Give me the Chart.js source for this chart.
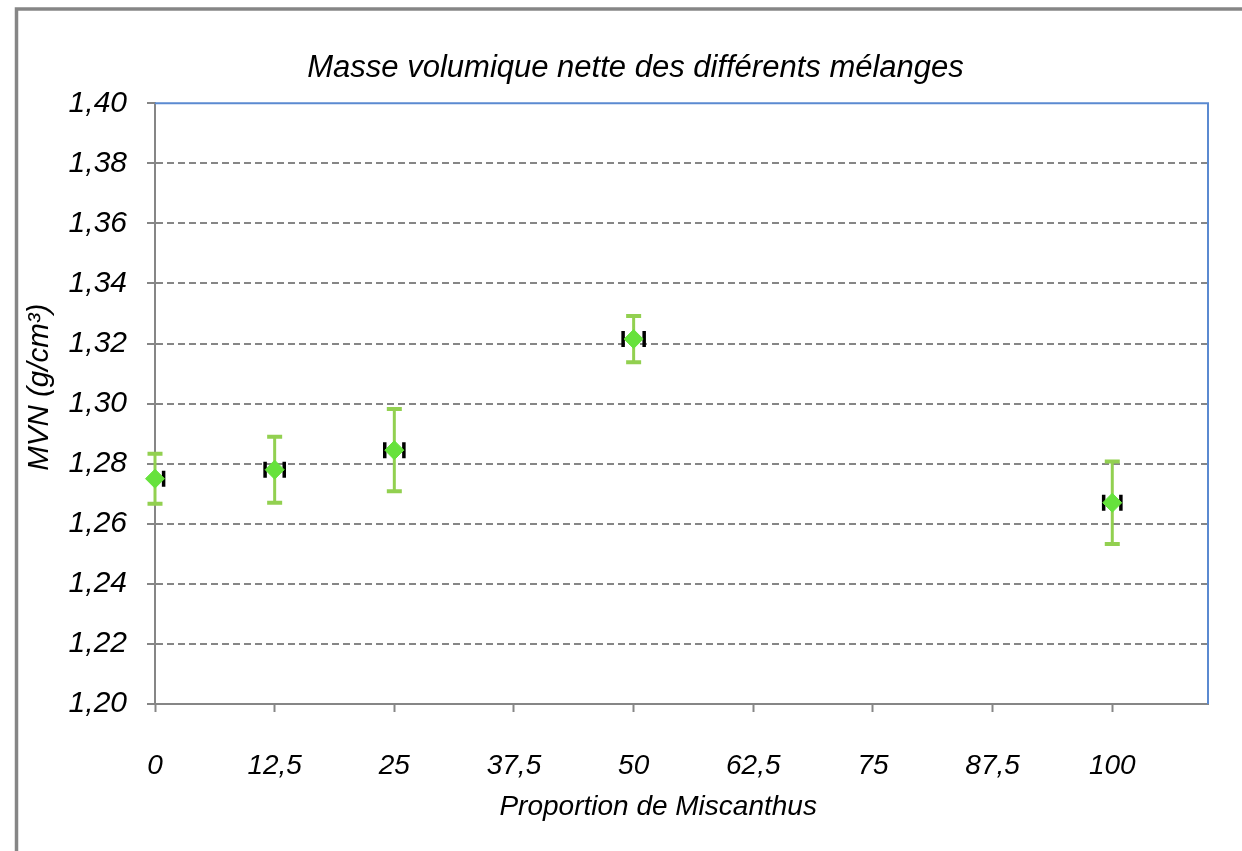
<!DOCTYPE html>
<html lang="fr">
<head>
<meta charset="UTF-8">
<title>Masse volumique nette des différents mélanges</title>
<script src="https://cdn.jsdelivr.net/npm/chart.js"></script>
<style>
  html, body { margin: 0; padding: 0; background: #fff; }
  #wrap { width: 1242px; height: 851px; }
</style>
</head>
<body>
<div id="wrap"><canvas id="chart" width="1242" height="851"></canvas></div>
<script>
// données
const proportions = [0, 12.5, 25, 50, 100];
const mvn = [1.275, 1.278, 1.2845, 1.3215, 1.267];
const mvnErr = [0.0083, 0.011, 0.0137, 0.0077, 0.0137];
const propErr = [0.9, 1.0, 1.0, 1.1, 0.9];
const xTicks = [0, 12.5, 25, 37.5, 50, 62.5, 75, 87.5, 100];

const police = '"Liberation Sans", Arial, sans-serif';

// cadre gris du graphique + bordure bleue de la zone de tracé
const cadre = {
    id: 'cadre',
    beforeDraw(chart) {
        const ctx = chart.ctx;
        ctx.save();
        ctx.strokeStyle = '#868686';
        ctx.lineWidth = 3.5;
        ctx.strokeRect(16.5, 9, 1300, 900);
        ctx.restore();
    },
    beforeDatasetsDraw(chart) {
        const a = chart.chartArea;
        const ctx = chart.ctx;
        ctx.save();
        ctx.strokeStyle = '#5b8ad1';
        ctx.lineWidth = 2;
        ctx.beginPath();
        ctx.moveTo(a.left, a.top);
        ctx.lineTo(a.right, a.top);
        ctx.lineTo(a.right, a.bottom);
        ctx.stroke();
        ctx.restore();
    }
};

// barres d'erreur (x en noir, y en vert)
const barresErreur = {
    id: 'barresErreur',
    beforeDatasetsDraw(chart) {
        const ctx = chart.ctx;
        const xs = chart.scales.x, ys = chart.scales.y;
        const a = chart.chartArea;
        proportions.forEach((p, i) => {
            const cx = xs.getPixelForValue(p);
            const cy = ys.getPixelForValue(mvn[i]);
            const yHaut = ys.getPixelForValue(mvn[i] + mvnErr[i]);
            const yBas = ys.getPixelForValue(mvn[i] - mvnErr[i]);
            ctx.save();
            ctx.strokeStyle = '#92d050';
            ctx.lineWidth = 3;
            ctx.beginPath();
            ctx.moveTo(cx, yHaut);
            ctx.lineTo(cx, yBas);
            ctx.stroke();
            ctx.lineWidth = 4;
            ctx.beginPath();
            ctx.moveTo(cx - 7.5, yHaut);
            ctx.lineTo(cx + 7.5, yHaut);
            ctx.moveTo(cx - 7.5, yBas);
            ctx.lineTo(cx + 7.5, yBas);
            ctx.stroke();
            ctx.restore();

            // les barres horizontales restent dans la zone de tracé
            ctx.save();
            ctx.beginPath();
            ctx.rect(a.left + 1, a.top, a.right - a.left, a.bottom - a.top);
            ctx.clip();
            const xg = xs.getPixelForValue(p - propErr[i]);
            const xd = xs.getPixelForValue(p + propErr[i]);
            ctx.strokeStyle = '#000';
            ctx.lineWidth = 2;
            ctx.beginPath();
            ctx.moveTo(xg, cy);
            ctx.lineTo(xd, cy);
            ctx.stroke();
            ctx.lineWidth = 3.5;
            ctx.beginPath();
            ctx.moveTo(xg, cy - 8);
            ctx.lineTo(xg, cy + 8);
            ctx.moveTo(xd, cy - 8);
            ctx.lineTo(xd, cy + 8);
            ctx.stroke();
            ctx.restore();
        });
    }
};

const virgule = v => String(v).replace('.', ',');

new Chart(document.getElementById('chart'), {
    type: 'scatter',
    data: {
        datasets: [{
            label: 'MVN',
            data: proportions.map((p, i) => ({ x: p, y: mvn[i] })),
            pointStyle: 'rectRot',
            pointRadius: 9.5,
            pointHoverRadius: 9.5,
            backgroundColor: '#66e23c',
            borderColor: '#66e23c',
            borderWidth: 1,
            clip: false
        }]
    },
    options: {
        responsive: false,
        animation: false,
        layout: { padding: { left: 20, right: 34, top: 12, bottom: 0 } },
        plugins: {
            legend: { display: false },
            tooltip: { enabled: false },
            title: {
                display: true,
                // espaces en tête : le titre Excel est décalé vers la droite
                text: '     Masse volumique nette des différents mélanges',
                color: '#000',
                font: { family: police, size: 31, style: 'italic', weight: 'normal', lineHeight: 1.2 },
                padding: { top: 38, bottom: 16 }
            }
        },
        scales: {
            x: {
                type: 'linear',
                min: 0,
                max: 110,
                afterBuildTicks: axis => { axis.ticks = xTicks.map(v => ({ value: v })); },
                afterFit: axis => { axis.height = 147; },
                grid: { drawOnChartArea: false, drawTicks: true, tickLength: 8, tickColor: '#868686', tickWidth: 2 },
                border: { color: '#868686', width: 2 },
                ticks: {
                    padding: 37,
                    maxRotation: 0,
                    autoSkip: false,
                    color: '#000',
                    font: { family: police, size: 28, style: 'italic' },
                    callback: v => virgule(v)
                },
                title: {
                    display: true,
                    text: 'Proportion de Miscanthus      ',
                    color: '#000',
                    font: { family: police, size: 28, style: 'italic', lineHeight: 1.2 },
                    padding: { top: 0, bottom: 27 }
                }
            },
            y: {
                min: 1.2,
                max: 1.4,
                afterFit: axis => { axis.width = 135; },
                grid: {
                    color: c => (c.index === 0 || c.index === 10) ? 'rgba(0,0,0,0)' : '#868686',
                    lineWidth: 2,
                    tickLength: 8,
                    tickColor: '#868686',
                    tickWidth: 2
                },
                border: { color: '#868686', width: 2, dash: [7, 4] },
                ticks: {
                    stepSize: 0.02,
                    padding: 20,
                    color: '#000',
                    font: { family: police, size: 30, style: 'italic' },
                    callback: v => v.toFixed(2).replace('.', ',')
                },
                title: {
                    display: true,
                    text: '    MVN (g/cm³)',
                    color: '#000',
                    font: { family: police, size: 29.5, style: 'italic', lineHeight: 1.2 },
                    padding: { top: 2, bottom: 0 }
                }
            }
        }
    },
    plugins: [cadre, barresErreur]
});
</script>
</body>
</html>
